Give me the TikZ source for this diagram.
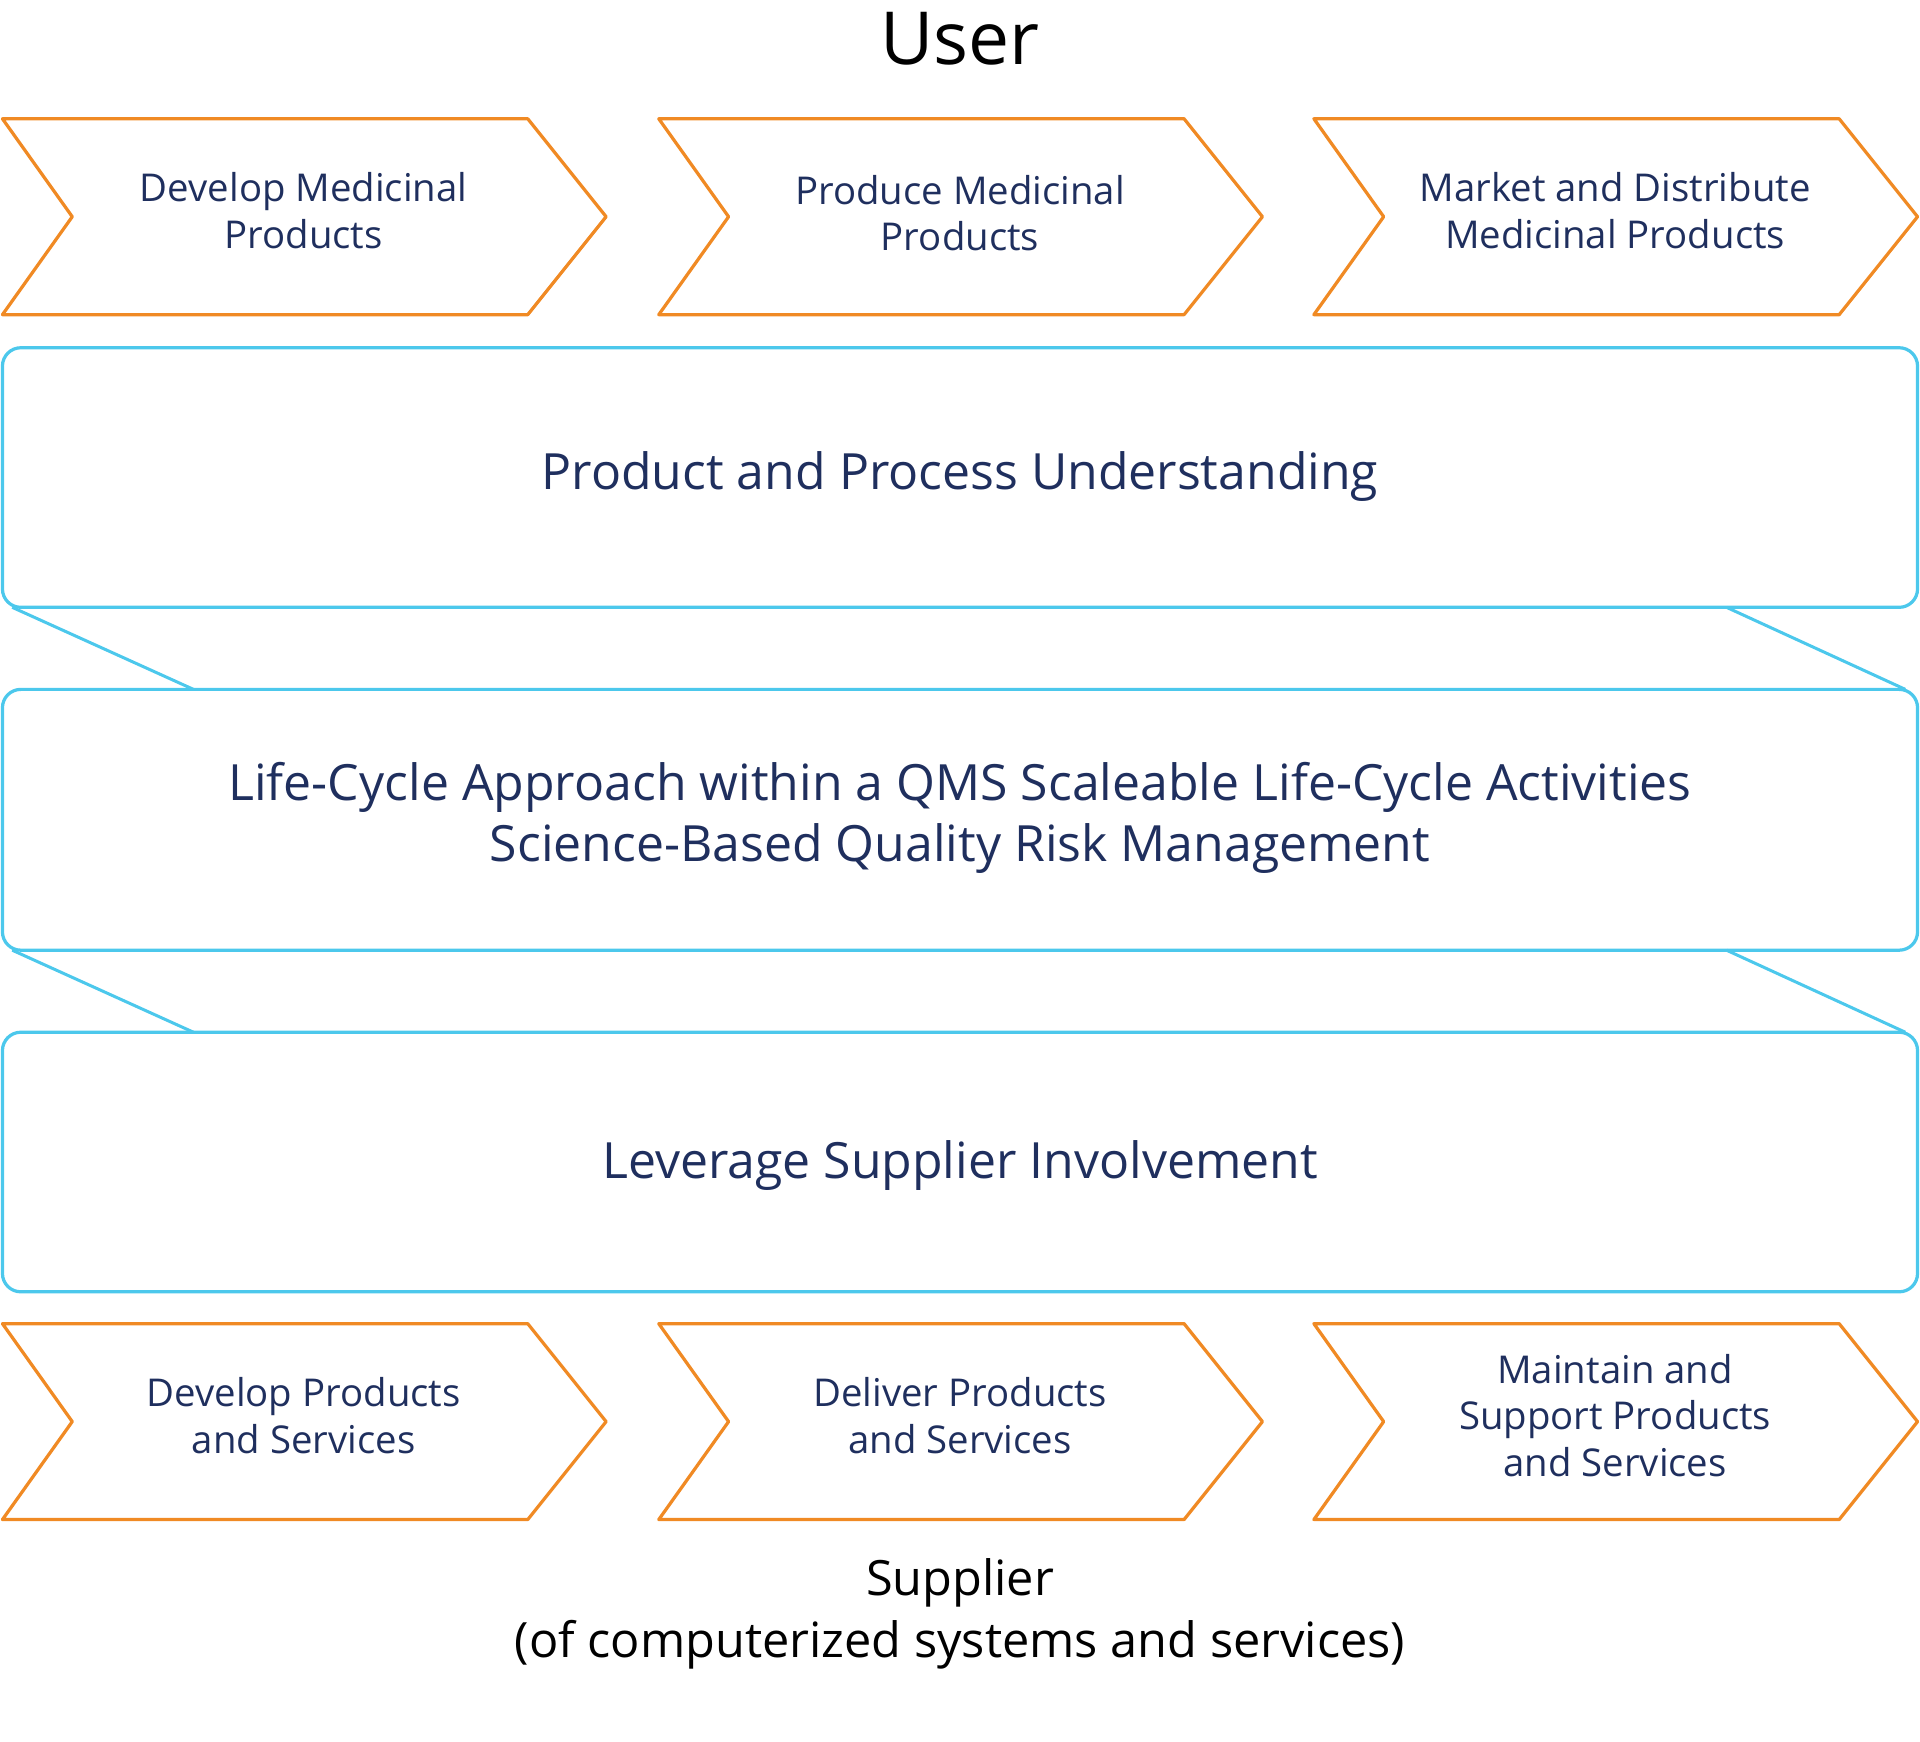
\documentclass[tikz,border=0pt]{standalone}
\usepackage{fontspec}
\setmainfont{Open Sans}
\definecolor{org}{HTML}{F08A24}
\definecolor{cy}{HTML}{4CC8EC}
\definecolor{nv}{HTML}{1F2F5E}
\begin{document}
\begin{tikzpicture}[x=0.01cm,y=-0.01cm,
 chev/.style={draw=org,line width=0.75pt,line join=round},
 box/.style={draw=cy,line width=0.75pt,rounded corners=0.15cm},
 lnk/.style={draw=cy,line width=0.7pt},
 ct/.style={text=nv,font=\fontsize{8.9}{10.8}\selectfont,align=center},
 bt/.style={text=nv,font=\fontsize{11.6}{14.2}\selectfont,align=center}]
\useasboundingbox (0,0) rectangle (1568,1422);
\foreach \x/\n in {0/a,536/b,1071/c}{
 \draw[chev] (\x+2,97) -- (\x+431,97) -- (\x+495,177) -- (\x+431,257) -- (\x+2,257) -- (\x+59,177) -- cycle;
 \coordinate (t\n) at (\x+248,172);
 \draw[chev] (\x+2,1081) -- (\x+431,1081) -- (\x+495,1161) -- (\x+431,1241) -- (\x+2,1241) -- (\x+59,1161) -- cycle;
 \coordinate (u\n) at (\x+248,1156);
}
\node[ct] at (ta) {Develop Medicinal\\Products};
\node[ct] at ([yshift=-0.02cm]tb) {Produce Medicinal\\Products};
\node[ct] at (tc) {Market and Distribute\\Medicinal Products};
\node[ct] at (ua) {Develop Products\\and Services};
\node[ct] at (ub) {Deliver Products\\and Services};
\node[ct] at (uc) {Maintain and\\Support Products\\and Services};
\draw[box] (2,284) rectangle (1566,496);
\draw[box] (2,563) rectangle (1566,776);
\draw[box] (2,843) rectangle (1566,1055);
\draw[lnk] (10,496) -- (158,563);
\draw[lnk] (1410,496) -- (1556,563);
\draw[lnk] (10,776) -- (158,843);
\draw[lnk] (1410,776) -- (1556,843);
\node[bt] (p1) at (784,389) {Product and Process Understanding};
\node[bt] (p2) at (784,668) {Life-Cycle Approach within a QMS Scaleable Life-Cycle Activities\\Science-Based Quality Risk Management};
\node[bt] (p3) at (784,952) {Leverage Supplier Involvement};
\node[font=\fontsize{17}{20}\selectfont] (u) at (784,32) {User};
\node[font=\fontsize{11.3}{14.2}\selectfont,align=center] (s) at (784,1318) {Supplier\\(of computerized systems and services)};
\end{tikzpicture}
\end{document}
